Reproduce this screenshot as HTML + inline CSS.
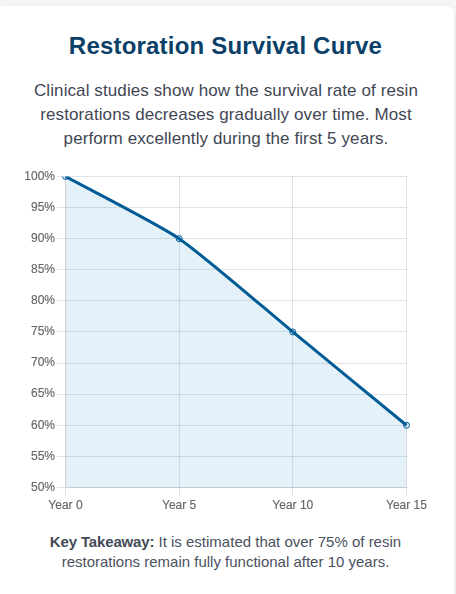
<!DOCTYPE html>
<html><head><meta charset="utf-8">
<style>
html,body{margin:0;padding:0;}
body{width:456px;height:594px;overflow:hidden;background:#f4f6f5;position:relative;font-family:"Liberation Sans",sans-serif;}
.card{position:absolute;left:-4px;top:6px;width:458px;height:620px;background:#fff;border-radius:8px;box-shadow:0 4px 12px rgba(0,0,0,0.07);}
.t{position:absolute;left:0;width:451px;text-align:center;white-space:nowrap;}
h1{margin:0;font-size:24px;font-weight:700;line-height:30px;top:31.4px;letter-spacing:0.2px;color:#0a4068;}
.p{margin-left:0.5px;font-size:17px;line-height:24px;top:79.1px;letter-spacing:0.1px;color:#3f4654;}
.k{font-size:15px;line-height:20px;top:532px;color:#4a5160;}
.k b{color:#434a57;letter-spacing:-0.15px;}
svg{position:absolute;left:0;top:0;will-change:transform;}
</style></head><body>
<div class="card"></div>
<h1 class="t">Restoration Survival Curve</h1>
<div class="t p">Clinical studies show how the survival rate of resin<br>restorations decreases gradually over time. Most<br>perform excellently during the first 5 years.</div>
<div class="t k"><b>Key Takeaway:</b> It is estimated that over 75% of resin<br>restorations remain fully functional after 10 years.</div>
<svg width="456" height="594" viewBox="0 0 456 594">
  <g fill="rgba(20,50,70,0.13)" shape-rendering="crispEdges">
    <rect x="57" y="176" width="350" height="1"/>
    <rect x="57" y="207" width="350" height="1"/>
    <rect x="57" y="238" width="350" height="1"/>
    <rect x="57" y="269" width="350" height="1"/>
    <rect x="57" y="300" width="350" height="1"/>
    <rect x="57" y="331" width="350" height="1"/>
    <rect x="57" y="363" width="350" height="1"/>
    <rect x="57" y="394" width="350" height="1"/>
    <rect x="57" y="425" width="350" height="1"/>
    <rect x="57" y="456" width="350" height="1"/>
    <rect x="57" y="487" width="350" height="1"/>
    <rect x="65" y="177" width="1" height="310"/>
    <rect x="65" y="488" width="1" height="8"/>
    <rect x="179" y="176" width="1" height="320"/>
    <rect x="292" y="176" width="1" height="320"/>
    <rect x="406" y="176" width="1" height="320"/>
  </g>
  <rect x="65" y="176" width="1" height="312" fill="rgba(0,0,0,0.08)" shape-rendering="crispEdges"/>
  <rect x="66" y="487" width="341" height="1" fill="rgba(0,0,0,0.08)" shape-rendering="crispEdges"/>
  <defs><clipPath id="cl"><rect x="0" y="176.45" width="456" height="400"/></clipPath><clipPath id="cf"><rect x="66" y="176.45" width="390" height="400"/></clipPath></defs>
  <g clip-path="url(#cl)">
    <path d="M65.50 176.45 C88.23 188.89 157.87 224.08 179.17 238.65 C203.34 255.18 270.10 313.29 292.83 331.95 C315.57 350.61 383.77 406.59 406.50 425.25 L406.50 487.45 L65.50 487.45 Z" fill="rgba(0,119,182,0.1)" clip-path="url(#cf)"/>
    <path d="M65.50 176.45 C88.23 188.89 157.87 224.08 179.17 238.65 C203.34 255.18 270.10 313.29 292.83 331.95 C315.57 350.61 383.77 406.59 406.50 425.25" fill="none" stroke="#005c96" stroke-width="3" stroke-linejoin="miter"/>
    <g fill="rgba(0,119,182,0.1)" stroke="#005c96" stroke-width="1">
      <circle cx="65.5" cy="176.45" r="3"/>
      <circle cx="179.17" cy="238.65" r="3"/>
      <circle cx="292.83" cy="331.95" r="3"/>
      <circle cx="406.5" cy="425.25" r="3"/>
    </g>
  </g>
  <g font-family="Liberation Sans" font-size="12" fill="#666" stroke="#666" stroke-width="0.15" text-anchor="end">
    <text x="55" y="180">100%</text>
    <text x="55" y="211">95%</text>
    <text x="55" y="242">90%</text>
    <text x="55" y="273">85%</text>
    <text x="55" y="304">80%</text>
    <text x="55" y="335">75%</text>
    <text x="55" y="366">70%</text>
    <text x="55" y="397">65%</text>
    <text x="55" y="429">60%</text>
    <text x="55" y="460">55%</text>
    <text x="55" y="491">50%</text>
  </g>
  <g font-family="Liberation Sans" font-size="12" fill="#666" stroke="#666" stroke-width="0.15" text-anchor="middle">
    <text x="65.5" y="509">Year 0</text>
    <text x="179.17" y="509">Year 5</text>
    <text x="292.83" y="509">Year 10</text>
    <text x="406.5" y="509">Year 15</text>
  </g>
</svg>
</body></html>
